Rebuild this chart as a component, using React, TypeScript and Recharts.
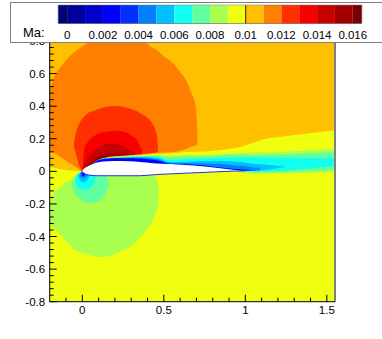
import { Area, Bar, BarChart, ComposedChart, Line, ReferenceArea, ReferenceLine, XAxis, YAxis } from "recharts";

const legendEdges = [0, 0.01];
const legendTicks = [0, 0.002, 0.004, 0.006, 0.008, 0.01, 0.012, 0.014, 0.016];
const legendBands = [
  { key: "a", value: -0.0005, color: "#00007f" },
  { key: "b", value: 0.001, color: "#00009f" },
  { key: "c", value: 0.001, color: "#0000c8" },
  { key: "d", value: 0.001, color: "#0000ff" },
  { key: "e", value: 0.001, color: "#0030ff" },
  { key: "f", value: 0.001, color: "#0080ff" },
  { key: "g", value: 0.001, color: "#00c0ff" },
  { key: "h", value: 0.001, color: "#10ffef" },
  { key: "i", value: 0.001, color: "#60ffa0" },
  { key: "j", value: 0.001, color: "#a8ff50" },
  { key: "k", value: 0.001, color: "#f0ff10" },
  { key: "l", value: 0.001, color: "#ffc000" },
  { key: "m", value: 0.001, color: "#ff8000" },
  { key: "n", value: 0.001, color: "#ff3000" },
  { key: "o", value: 0.001, color: "#f80000" },
  { key: "p", value: 0.001, color: "#c80000" },
  { key: "q", value: 0.001, color: "#a00000" },
  { key: "r", value: 0.0005, color: "#780000" },
];

const xTicks = [-0.1, 0, 0.1, 0.2, 0.3, 0.4, 0.5, 0.6, 0.7, 0.8, 0.9, 1, 1.1, 1.2, 1.3, 1.4, 1.5];
const xLabels = [0, 0.5, 1, 1.5];
const yTicks = [
  -0.8, -0.76, -0.72, -0.68, -0.64, -0.6, -0.56, -0.52, -0.48, -0.44, -0.4, -0.36, -0.32, -0.28, -0.24, -0.2, -0.16,
  -0.12, -0.08, -0.04, 0, 0.04, 0.08, 0.12, 0.16, 0.2, 0.24, 0.28, 0.32, 0.36, 0.4, 0.44, 0.48, 0.52, 0.56, 0.6, 0.64,
  0.68, 0.72, 0.76, 0.8,
];
const yLabels = [-0.8, -0.6, -0.4, -0.2, 0, 0.2, 0.4, 0.6, 0.8];

// contour regions, each row is [x, lower y, upper y]
const backdrop = [[-0.2, 0, 0.8], [1.55, 0, 0.8]];
const orangeLobe = [
  [-0.198, 0.131, 0.499], [-0.18, 0.119, 0.56], [-0.155, 0.103, 0.609], [-0.124, 0.082, 0.652], [-0.094, 0.062, 0.689],
  [-0.063, 0.042, 0.72], [-0.033, 0.022, 0.744], [0, 0, 0.769], [0.017, 0.01, 0.78], [0.078, 0.03, 0.8], [0.372, 0.08, 0.8],
  [0.415, 0.09, 0.769], [0.458, 0.1, 0.744], [0.507, 0.105, 0.701], [0.557, 0.112, 0.664], [0.6, 0.122, 0.609],
  [0.642, 0.136, 0.548], [0.667, 0.145, 0.486], [0.692, 0.155, 0.419], [0.7, 0.158, 0.345], [0.704, 0.165, 0.272],
  [0.706, 0.17, 0.192],
];
const redOrangeLobe = [
  [-0.051, 0.143, 0.174], [-0.045, 0.13, 0.21], [-0.034, 0.088, 0.253], [-0.02, 0.04, 0.29], [0.004, 0, 0.327],
  [0.035, 0.02, 0.358], [0.066, 0.04, 0.37], [0.109, 0.05, 0.385], [0.15, 0.05, 0.396], [0.2, 0.05, 0.401],
  [0.274, 0.07, 0.39], [0.317, 0.08, 0.376], [0.354, 0.094, 0.358], [0.397, 0.1, 0.33], [0.428, 0.106, 0.296],
  [0.446, 0.112, 0.26], [0.458, 0.118, 0.223], [0.464, 0.125, 0.149],
];
const redLobe = [
  [0.001, 0, 0.02], [0.007, 0.01, 0.08], [0.012, 0.02, 0.143], [0.035, 0.03, 0.18], [0.066, 0.04, 0.212],
  [0.109, 0.05, 0.235], [0.15, 0.05, 0.243], [0.2, 0.05, 0.249], [0.274, 0.07, 0.237], [0.305, 0.08, 0.217],
  [0.336, 0.09, 0.192], [0.354, 0.1, 0.155], [0.364, 0.103, 0.131], [0.366, 0.105, 0.118],
];
const crimsonLobe = [
  [0.004, 0.014, 0.02], [0.017, 0.02, 0.057], [0.04, 0.03, 0.09], [0.066, 0.04, 0.118], [0.109, 0.05, 0.149],
  [0.15, 0.05, 0.168], [0.2, 0.05, 0.168], [0.231, 0.069, 0.162], [0.293, 0.082, 0.131], [0.323, 0.094, 0.112],
];
const darkRedLobe = [
  [0.023, 0.026, 0.032], [0.066, 0.04, 0.069], [0.109, 0.05, 0.1], [0.19, 0.05, 0.112], [0.26, 0.069, 0.109],
  [0.305, 0.082, 0.091],
];
const amberStrip = [
  [0.09, 0.03, 0.05], [0.12, 0.05, 0.075], [0.17, 0.05, 0.09], [0.231, 0.05, 0.094], [0.354, 0.05, 0.103], [0.464, 0.05, 0.114],
  [0.538, 0.05, 0.117], [0.632, 0.05, 0.136], [0.692, 0.05, 0.16],
];
const yellowField = [
  [-0.2, -0.8, 0.026], [0, -0.8, 0], [0.047, -0.8, 0.008], [0.09, -0.8, 0.04], [0.1, -0.8, 0.07], [0.16, -0.8, 0.085],
  [0.231, -0.8, 0.091], [0.354, -0.8, 0.1], [0.464, -0.8, 0.106], [0.538, -0.8, 0.109], [0.632, -0.8, 0.118],
  [0.752, -0.8, 0.122], [0.845, -0.8, 0.131], [0.968, -0.8, 0.149], [1.06, -0.8, 0.18], [1.15, -0.8, 0.204],
  [1.255, -0.8, 0.217], [1.353, -0.8, 0.229], [1.458, -0.8, 0.241], [1.55, -0.8, 0.253],
];
const limeWake = [
  [0.06, 0.03, 0.04], [0.1, 0.03, 0.07], [0.16, 0.03, 0.084], [0.231, 0.03, 0.088], [0.354, 0.03, 0.096], [0.464, 0.03, 0.1], [0.538, 0.005, 0.097],
  [0.632, 0.005, 0.1], [0.752, 0.005, 0.1], [0.875, 0.005, 0.106], [0.968, -0.007, 0.112], [1.06, -0.013, 0.115],
  [1.243, -0.013, 0.121], [1.55, -0.004, 0.137],
];
const tealWake = [
  [0.06, 0.03, 0.04], [0.1, 0.03, 0.07], [0.16, 0.03, 0.083], [0.231, 0.03, 0.086], [0.354, 0.03, 0.094], [0.464, 0.03, 0.094], [0.538, 0.005, 0.085],
  [0.632, 0.005, 0.091], [0.752, 0.005, 0.091], [0.845, 0.005, 0.097], [0.92, 0.005, 0.103], [1.06, -0.007, 0.1],
  [1.243, -0.004, 0.106], [1.55, 0.008, 0.117],
];
const cyanWake = [
  [0.06, 0.03, 0.04], [0.1, 0.03, 0.07], [0.16, 0.03, 0.082], [0.231, 0.03, 0.085], [0.354, 0.03, 0.091], [0.464, 0.03, 0.088], [0.538, 0.005, 0.069],
  [0.632, 0.005, 0.075], [0.752, 0.005, 0.079], [0.845, 0.005, 0.082], [0.968, 0.005, 0.085], [1.06, -0.004, 0.085],
  [1.243, 0.005, 0.082], [1.55, 0.034, 0.08],
];
const skyWake = [
  [0.06, 0.03, 0.04], [0.1, 0.03, 0.07], [0.16, 0.03, 0.081], [0.231, 0.03, 0.084], [0.354, 0.03, 0.088], [0.464, 0.03, 0.082], [0.538, 0.005, 0.057],
  [0.632, 0.005, 0.059], [0.752, 0.005, 0.063], [0.845, 0.005, 0.063], [0.968, 0.005, 0.057], [1.06, 0.005, 0.045],
  [1.15, 0.011, 0.039], [1.243, 0.026, 0.029],
];
const azureWake = [
  [0.06, 0.03, 0.04], [0.1, 0.03, 0.069], [0.16, 0.03, 0.08], [0.231, 0.03, 0.082], [0.354, 0.03, 0.083], [0.464, 0.03, 0.075], [0.538, 0.005, 0.051],
  [0.632, 0.005, 0.051], [0.752, 0.005, 0.048], [0.845, 0.005, 0.045], [0.937, 0.002, 0.036], [1.03, 0.002, 0.029],
  [1.09, 0.008, 0.02],
];
const blueWake = [
  [0.06, 0.03, 0.04], [0.1, 0.03, 0.068], [0.16, 0.03, 0.078], [0.231, 0.03, 0.08], [0.354, 0.03, 0.079], [0.464, 0.03, 0.066], [0.538, 0.005, 0.047],
  [0.632, 0.005, 0.044], [0.752, 0.005, 0.036], [0.845, 0.005, 0.023], [0.937, 0.005, 0.014], [1.03, 0.005, 0.009],
];
const limeDisc = [
  [-0.198, -0.311, -0.207], [-0.167, -0.359, -0.115], [-0.149, -0.372, -0.11], [-0.106, -0.42, -0.072],
  [-0.075, -0.452, -0.055], [-0.045, -0.485, -0.029], [0, -0.5, -0.002], [0.05, -0.515, -0.02], [0.127, -0.526, -0.025],
  [0.231, -0.495, -0.025], [0.323, -0.44, -0.025], [0.37, -0.39, -0.025], [0.415, -0.329, -0.025], [0.446, -0.27, -0.03],
  [0.464, -0.207, -0.07], [0.47, -0.13, -0.1],
];
const tealDisc = [
  [-0.063, -0.09, -0.075], [-0.045, -0.133, -0.041], [-0.014, -0.17, -0.01], [0.017, -0.188, -0.004], [0.047, -0.194, -0.02],
  [0.09, -0.188, -0.02], [0.127, -0.158, -0.02], [0.152, -0.115, -0.041], [0.16, -0.084, -0.07],
];
const cyanDisc = [
  [-0.045, -0.053, -0.05], [-0.033, -0.09, -0.023], [-0.008, -0.109, -0.004], [0.017, -0.115, 0], [0.047, -0.102, -0.02],
  [0.072, -0.072, -0.02], [0.08, -0.041, -0.03],
];
const skyDisc = [
  [-0.026, -0.03, -0.025], [-0.014, -0.053, -0.01], [0.004, -0.069, 0.002], [0.023, -0.063, 0], [0.041, -0.035, -0.01],
];
const azureDisc = [[-0.014, -0.03, -0.015], [-0.002, -0.04, 0], [0.01, -0.044, 0], [0.023, -0.035, 0], [0.035, -0.025, -0.01]];
const blueDisc = [[-0.002, -0.028, 0], [0.008, -0.03, 0], [0.018, -0.02, 0]];
const airfoilBottom = [
  [0.005, -0.008], [0.02, -0.016], [0.047, -0.024], [0.1, -0.027], [0.35, -0.027], [0.45, -0.02], [0.62, -0.012],
  [0.8, -0.004], [0.94, 0.002], [0.998, 0.003],
];
const airfoilBody = [
  [0, -0.001, -0.001], [0.005, -0.008, 0.01], [0.03, -0.02, 0.028], [0.07, -0.026, 0.047], [0.129, -0.027, 0.06],
  [0.19, -0.027, 0.064], [0.293, -0.027, 0.062], [0.354, -0.027, 0.057], [0.434, -0.021, 0.05],
  [0.538, -0.016, 0.045], [0.632, -0.012, 0.039], [0.734, -0.007, 0.031],
  [0.832, -0.003, 0.02], [0.937, 0.002, 0.008], [0.998, 0.003, 0.003],
];

const regions = [
  { name: "backdrop", rows: backdrop, color: "#ffc000" },
  { name: "orangeLobe", rows: orangeLobe, color: "#ff8000" },
  { name: "redOrangeLobe", rows: redOrangeLobe, color: "#ff3000" },
  { name: "redLobe", rows: redLobe, color: "#f80000" },
  { name: "crimsonLobe", rows: crimsonLobe, color: "#c80000" },
  { name: "darkRedLobe", rows: darkRedLobe, color: "#a00000" },
  { name: "amberStrip", rows: amberStrip, color: "#ffc000" },
  { name: "yellowField", rows: yellowField, color: "#f0ff10" },
  { name: "limeWake", rows: limeWake, color: "#a8ff50" },
  { name: "tealWake", rows: tealWake, color: "#60ffa0" },
  { name: "cyanWake", rows: cyanWake, color: "#10ffef" },
  { name: "skyWake", rows: skyWake, color: "#00c0ff" },
  { name: "azureWake", rows: azureWake, color: "#0080ff" },
  { name: "blueWake", rows: blueWake, color: "#0000ff" },
  { name: "limeDisc", rows: limeDisc, color: "#a8ff50" },
  { name: "tealDisc", rows: tealDisc, color: "#60ffa0" },
  { name: "cyanDisc", rows: cyanDisc, color: "#10ffef" },
  { name: "skyDisc", rows: skyDisc, color: "#00c0ff" },
  { name: "azureDisc", rows: azureDisc, color: "#0080ff" },
  { name: "blueDisc", rows: blueDisc, color: "#0000ff" },
  { name: "airfoilBody", rows: airfoilBody, color: "#ffffff" },
];

const fontFamily = "'Liberation Sans', Arial, sans-serif";
const toRange = (rows: number[][]) => rows.map(([x, lo, hi]) => ({ x, range: [lo, hi] }));
const toLine = (rows: number[][]) => rows.map(([x, y]) => ({ x, y }));
const legendRow = [Object.fromEntries(legendBands.map((b) => [b.key, b.value]))];

function XTick({ x, y, payload }: any) {
  const major = xLabels.includes(payload.value);
  return (
    <g>
      <line x1={x} x2={x} y1={y} y2={y - (major ? 7 : 4)} stroke="#000" />
      {major && (
        <text x={x} y={y + 12} textAnchor="middle" fontSize={11.5} fontFamily={fontFamily} fill="#000">
          {payload.value}
        </text>
      )}
    </g>
  );
}

function YTick({ x, y, payload }: any) {
  const major = yLabels.includes(payload.value);
  return (
    <g>
      <line x1={x} x2={x + (major ? 7 : 4)} y1={y} y2={y} stroke="#000" />
      {major && (
        <text x={x - 4.5} y={y + 4} textAnchor="end" fontSize={11.5} fontFamily={fontFamily} fill="#000">
          {payload.value}
        </text>
      )}
    </g>
  );
}

export default function App() {
  return (
    <div style={{ position: "absolute", left: 0, top: 0, width: 382, height: 339, background: "#fff", overflow: "hidden" }}>
      <ComposedChart width={382} height={339} margin={{ top: 41, right: 47, bottom: 0, left: 0 }}>
        <XAxis
          type="number"
          dataKey="x"
          domain={[-0.2, 1.55]}
          ticks={xTicks}
          interval={0}
          height={37.3}
          tickSize={0}
          tickMargin={0}
          tickLine={false}
          tick={XTick}
          stroke="#000"
          allowDataOverflow
        />
        <YAxis
          type="number"
          domain={[-0.8, 0.8]}
          ticks={yTicks}
          interval={0}
          width={49.7}
          tickSize={0}
          tickMargin={0}
          tickLine={false}
          tick={YTick}
          stroke="#000"
          allowDataOverflow
        />
        {regions.map((r) => (
          <Area
            key={r.name}
            data={toRange(r.rows)}
            dataKey="range"
            type="monotone"
            fill={r.color}
            fillOpacity={1}
            stroke="none"
            dot={false}
            activeDot={false}
            isAnimationActive={false}
          />
        ))}
        <Line data={toLine(airfoilBottom)} dataKey="y" type="monotone" stroke="#2030e8" strokeWidth={1} dot={false} activeDot={false} isAnimationActive={false} />
        <ReferenceLine x={1.55} stroke="#808080" strokeWidth={2} />
      </ComposedChart>

      <div style={{ position: "absolute", left: 10, top: 2, width: 380, height: 39, background: "#fff", border: "1px solid #808080" }} />
      <div style={{ position: "absolute", left: 23, top: 25, fontFamily, fontSize: 13, color: "#000" }}>Ma:</div>
      <div style={{ position: "absolute", left: 0, top: 0 }}>
        <BarChart
          width={382}
          height={42}
          data={legendRow}
          layout="vertical"
          stackOffset="sign"
          barCategoryGap={0}
          margin={{ top: 5.3, right: 20.3, bottom: 0, left: 58.3 }}
        >
          <XAxis
            type="number"
            domain={[-0.0005, 0.0165]}
            ticks={legendTicks}
            interval={0}
            height={18.7}
            tickLine={false}
            axisLine={false}
            tickMargin={2}
            tick={{ fontSize: 11.5, fontFamily, fill: "#000" }}
            allowDataOverflow
          />
          <YAxis type="category" hide />
          {legendBands.map((b) => (
            <Bar key={b.key} dataKey={b.key} stackId="levels" fill={b.color} isAnimationActive={false} />
          ))}
          {legendEdges.map((v) => (
            <ReferenceLine key={v} x={v} stroke="#202020" strokeWidth={1} />
          ))}
          <ReferenceArea x1={-0.0005} x2={0.0165} fill="none" stroke="#606060" strokeWidth={1} />
        </BarChart>
      </div>
    </div>
  );
}
